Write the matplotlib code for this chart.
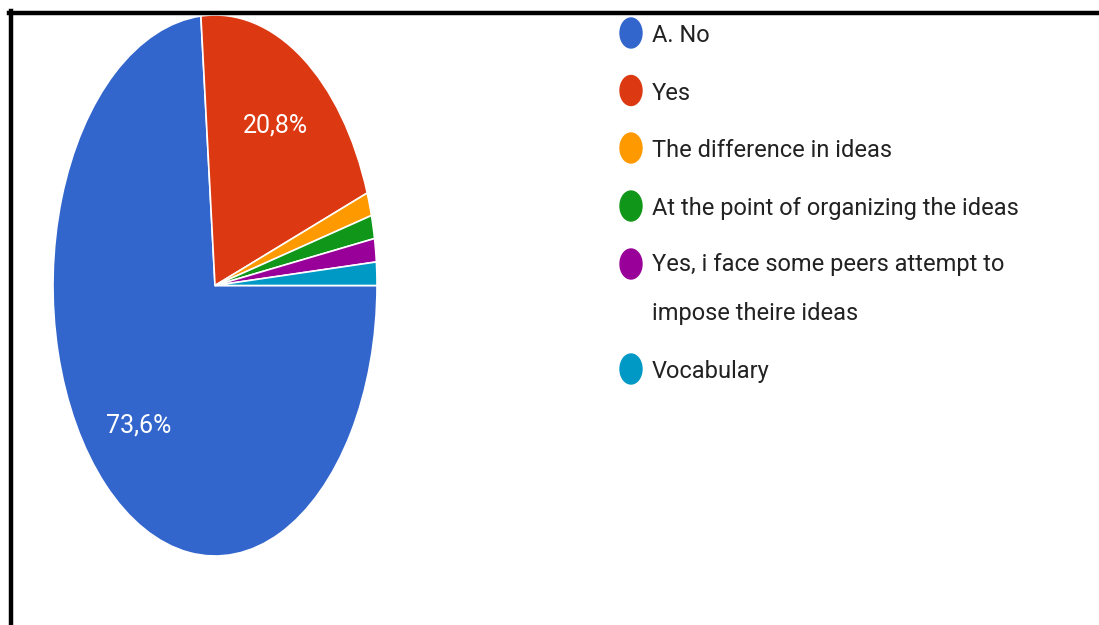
import matplotlib.pyplot as plt
import matplotlib.patches as mpatches
from matplotlib.lines import Line2D

# survey answers (72 responses)
answers = ["A. No", "Yes", "The difference in ideas",
           "At the point of organizing the ideas",
           "Yes, i face some peers attempt to\nimpose theire ideas",
           "Vocabulary"]
counts = [53, 15, 1, 1, 1, 1]
colors = ["#3366CC", "#DC3912", "#FF9900", "#109618", "#990099", "#0099C6"]

W, H = 1099, 625
fonts = ["Roboto", "DejaVu Sans"]

fig = plt.figure(figsize=(W / 100, H / 100), dpi=100)

# pie, stretched vertically
cx, cy, rx, ry = 215, 285.5, 162, 270.5
ax = fig.add_axes([(cx - rx) / W, (H - cy - ry) / H, 2 * rx / W, 2 * ry / H])


def pct(p):
    return f"{p:.1f}%".replace(".", ",") if p > 5 else ""


wedges, _, autotexts = ax.pie(counts, colors=colors, startangle=0, counterclock=False,
                              autopct=pct, pctdistance=0.7,
                              wedgeprops=dict(edgecolor="white", linewidth=1.2))
for t in autotexts:
    t.set_color("white")
    t.set_fontsize(18)
    t.set_family(fonts)
ax.set_aspect("auto")
ax.set_xlim(-1, 1)
ax.set_ylim(-1, 1)

# overlay in pixel coords for the legend and the frame
lay = fig.add_axes([0, 0, 1, 1], zorder=5)
lay.set_xlim(0, W)
lay.set_ylim(H, 0)
lay.axis("off")

rows = [33, 90.5, 148, 206, 264, 369]
for label, col, y in zip(answers, colors, rows):
    lay.add_patch(mpatches.Ellipse((631, y), 22, 30, color=col))
    # multi-line labels sit on the baseline of their last line
    base = y + 9 + 47 * label.count("\n")
    lay.text(652, base, label, fontsize=17, color="#222222", family=fonts,
             va="baseline", ha="left", linespacing=2.45)

lay.add_line(Line2D([9, W], [13, 13], color="black", lw=3.2))
lay.add_line(Line2D([11, 11], [11, H], color="black", lw=3.2))

fig.savefig("out.png", dpi=100)
